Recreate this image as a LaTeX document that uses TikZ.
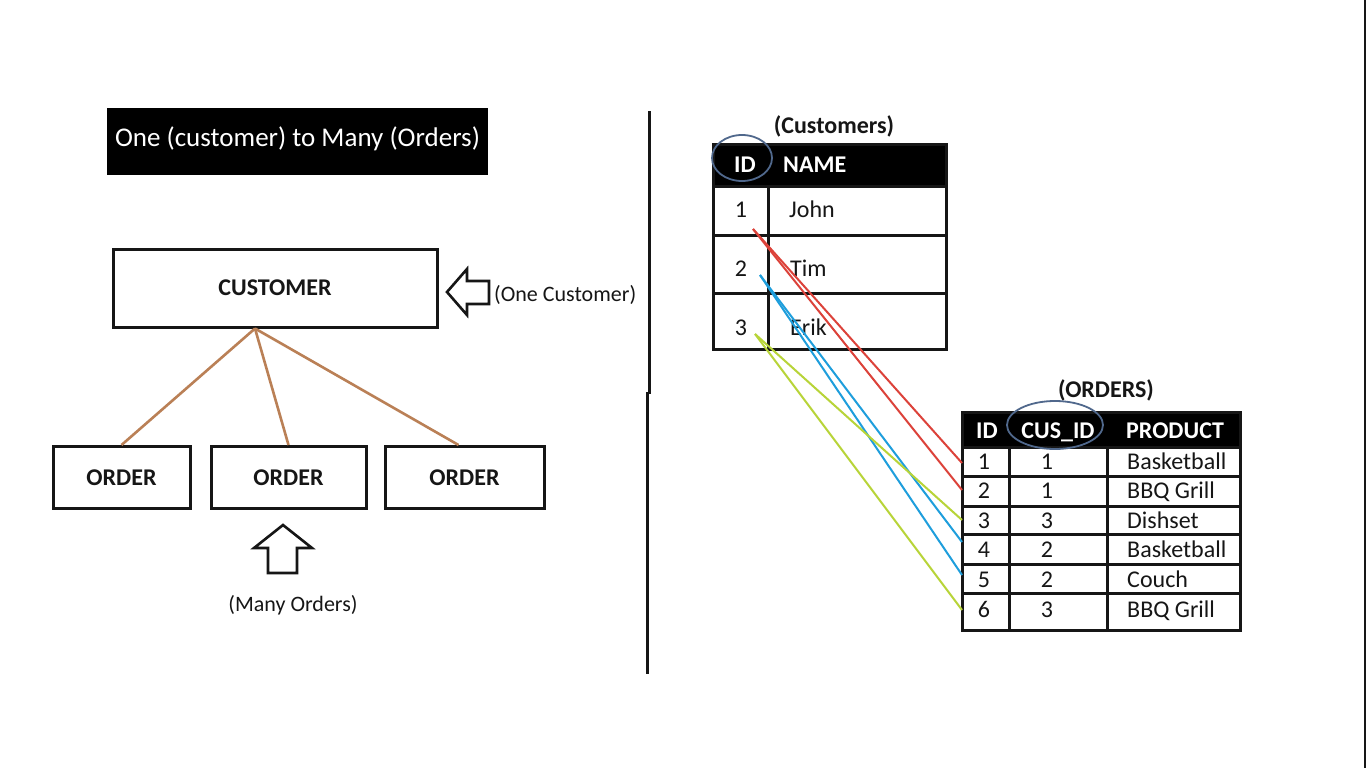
\documentclass[tikz,border=0pt]{standalone}
\usepackage{fontspec}
\setmainfont{Carlito}
\usetikzlibrary{calc}

\definecolor{ink}{RGB}{22,22,22}
\definecolor{linkbrown}{RGB}{186,128,86}
\definecolor{keyring}{RGB}{80,104,140}
\definecolor{relred}{RGB}{220,66,58}
\definecolor{relblue}{RGB}{30,158,220}
\definecolor{relgreen}{RGB}{184,212,56}

\tikzset{
  txt/.style={inner sep=0pt, text=ink, text height=15.5pt, text depth=0pt,
              font=\fontsize{24}{24}\selectfont},
  txtb/.style={txt, font=\fontsize{24}{24}\selectfont\bfseries},
  txts/.style={inner sep=0pt, text=ink, text height=14.2pt, text depth=0pt,
               font=\fontsize{22}{22}\selectfont},
  hdr/.style={txtb, text=white},
  entity/.style={draw=ink, line width=3pt, inner sep=0pt, text=ink,
                 text height=15.5pt, text depth=0pt,
                 font=\fontsize{24}{24}\selectfont\bfseries},
  grid/.style={draw=ink, line width=3pt},
  link/.style={draw=linkbrown, line width=2.6pt},
  ring/.style={draw=keyring, line width=1.8pt},
  rel/.style={line width=2pt},
  blockarrow/.style={draw=ink, line width=2.6pt, line join=miter, fill=white},
}

\begin{document}
\begin{tikzpicture}[x=1pt, y=-1pt]
\useasboundingbox[fill=white] (0,0) rectangle (1366,768);

% ---------- left half: one-to-many concept ----------
\node[fill=black, minimum width=381pt, minimum height=67pt, inner sep=0pt,
      text=white, font=\fontsize{27}{27}\selectfont,
      text height=17.4pt, text depth=7pt] (title) at (297.5,141.5)
      {One (customer) to Many (Orders)};

\node[entity, minimum width=324pt, minimum height=78pt] (cust) at (275,288) {CUSTOMER};
\node[entity, minimum width=137pt, minimum height=62pt] (ord1) at (121.5,477.5) {ORDER};
\node[entity, minimum width=155pt, minimum height=62pt] (ord2) at (288.5,477.5) {ORDER};
\node[entity, minimum width=159pt, minimum height=62pt] (ord3) at (464.5,477.5) {ORDER};

\coordinate (hub) at ([xshift=-20pt]cust.south);
\draw[link] (hub) -- (ord1.north);
\draw[link] (hub) -- (ord2.north);
\draw[link] (hub) -- ([xshift=-6pt]ord3.north);

% hollow arrow pointing at the customer box
\draw[blockarrow] (447,292) -- (467,269) -- (467,281) -- (489,281) -- (489,304)
  -- (467,304) -- (467,315) -- cycle;
\node[txts, anchor=west] (onecust) at (494,294) {(One Customer)};

% hollow arrow pointing up at the orders
\draw[blockarrow] (283,525) -- (312,548) -- (297,548) -- (297,573) -- (268,573)
  -- (268,548) -- (254,548) -- cycle;
\node[txts] (manyord) at (293,604) {(Many Orders)};

% divider
\draw[ink, line width=3pt] (649,111) -- (649,394);
\draw[ink, line width=3pt] (647.5,392) -- (647.5,674);

% ---------- Customers table ----------
\node[txtb] (custcap) at (834,126) {(Customers)};
\fill[black] (712,144) rectangle (947,186);
\draw[grid] (713,144) rectangle (946,349);
\draw[grid] (713,186) -- (946,186);
\draw[grid] (713,235) -- (946,235);
\draw[grid] (713,293) -- (946,293);
\draw[grid] (768,186) -- (768,349);

\node[hdr] (hid) at (745,165) {ID};
\node[hdr, anchor=west] (hname) at (783,165) {NAME};
\node[txt] (cid1) at (741,210) {1};
\node[txt, anchor=west] (cnm1) at (789,210) {John};
\node[txt] (cid2) at (741,269) {2};
\node[txt, anchor=west] (cnm2) at (790,269) {Tim};
\node[txt] (cid3) at (741,328) {3};
\node[txt, anchor=west] (cnm3) at (790,328) {Erik};

\draw[ring] (742,158) ellipse [x radius=30, y radius=23];

% ---------- Orders table ----------
\node[txtb] (ordcap) at (1106,390) {(ORDERS)};
\fill[black] (961,411) rectangle (1241,447);
\draw[grid] (962,412) rectangle (1240,630);
\draw[grid] (962,447) -- (1240,447);
\foreach \yy in {476,506,534,564,593}
  \draw[grid] (962,\yy) -- (1240,\yy);
\draw[grid] (1009,447) -- (1009,630);
\draw[grid] (1107,447) -- (1107,630);

\node[hdr] (oid) at (987,431) {ID};
\node[hdr] (ocus) at (1058,431) {CUS\_ID};
\node[hdr, anchor=west] (oprod) at (1126,431) {PRODUCT};

\foreach \n/\yy/\c/\p in {1/462/1/Basketball, 2/491/1/BBQ Grill, 3/521/3/Dishset,
                          4/550/2/Basketball, 5/580/2/Couch, 6/610/3/BBQ Grill}{
  \node[txt] (oid\n) at (984,\yy) {\n};
  \node[txt] (ocid\n) at (1047,\yy) {\c};
  \node[txt, anchor=west] (oprd\n) at (1127,\yy) {\p};
}

\draw[ring] (1055,425) ellipse [x radius=48, y radius=24];

% ---------- key links between the tables ----------
\coordinate (k1) at (753,229);
\coordinate (k2) at (760,275);
\coordinate (k3) at (755,334);
\coordinate (f1) at (962,463);
\coordinate (f2) at (962,490);
\coordinate (f3) at (962,520);
\coordinate (f4) at (962,542);
\coordinate (f5) at (962,575);
\coordinate (f6) at (962,610);

\draw[rel, relred] (k1) -- (f1);
\draw[rel, relred] (k1) -- (f2);
\draw[rel, relblue] (k2) -- (f4);
\draw[rel, relblue] (k2) -- (f5);
\draw[rel, relgreen] (k3) -- (f3);
\draw[rel, relgreen] (k3) -- (f6);

% frame edge on the right
\draw[ink, line width=2pt] (1365,0) -- (1365,768);
\end{tikzpicture}
\end{document}
